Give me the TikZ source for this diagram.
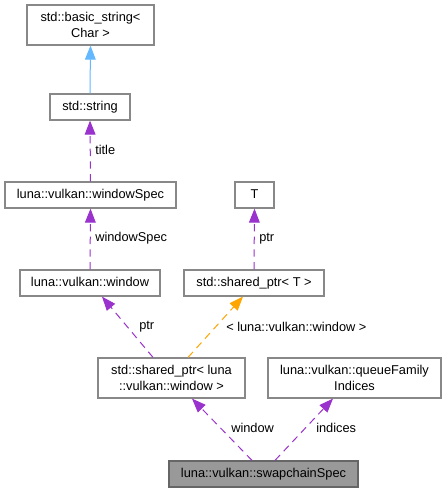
\documentclass[tikz,border=0pt]{standalone}
\usepackage{fontspec}
\setmainfont{Liberation Sans}
\usetikzlibrary{arrows.meta}
\definecolor{boxline}{HTML}{888888}
\definecolor{usecol}{HTML}{9A32CD}
\definecolor{tmplcol}{HTML}{FFA500}
\definecolor{inhcol}{HTML}{63B8FF}
\definecolor{curfill}{HTML}{999999}
\definecolor{curline}{HTML}{666666}
\tikzset{
  cls/.style={draw=boxline, line width=0.9pt, fill=white, align=center, inner sep=0pt,
    font=\fontsize{9.6pt}{11.5pt}\selectfont, text height=7pt, text depth=2pt},
  cur/.style={cls, fill=curfill, draw=curline},
  usage/.style={draw=usecol, line width=0.75pt, dash pattern=on 5.5pt off 4pt,
    -{Triangle[length=10.5pt,width=8pt,fill=usecol]}},
  tmpl/.style={draw=tmplcol, line width=0.75pt, dash pattern=on 5.5pt off 4pt,
    -{Triangle[length=10.5pt,width=8pt,fill=tmplcol]}},
  inh/.style={draw=inhcol, line width=0.75pt,
    -{Triangle[length=10.5pt,width=8pt,fill=inhcol]}},
  lbl/.style={anchor=west, inner sep=0pt, font=\fontsize{9.6pt}{11.5pt}\selectfont}
}
\begin{document}
\begin{tikzpicture}[x=0.75pt,y=-0.75pt]
\useasboundingbox (0,0) rectangle (446,492);
\fill[white] (0,0) rectangle (446,492);
\node[cls, minimum width=95.25pt, minimum height=30pt, text height=, text depth=] (bs) at (90.5,25) {std::basic\_string\textless\\Char \textgreater};
\node[cls, minimum width=60pt, minimum height=19.5pt] (str) at (90,107) {std::string};
\node[cls, minimum width=128.25pt, minimum height=19.5pt] (ws) at (90.5,195) {luna::vulkan::windowSpec};
\node[cls, minimum width=29.25pt, minimum height=19.5pt] (T) at (254.5,195) {T};
\node[cls, minimum width=105pt, minimum height=19.5pt] (win) at (90,283) {luna::vulkan::window};
\node[cls, minimum width=105pt, minimum height=19.5pt] (spT) at (254,283) {std::shared\_ptr\textless{} T \textgreater};
\node[cls, minimum width=110.25pt, minimum height=30pt, text height=, text depth=] (spL) at (171.5,378) {std::shared\_ptr\textless{} luna\\::vulkan::window \textgreater};
\node[cls, minimum width=129.75pt, minimum height=30pt, text height=, text depth=] (qf) at (354.5,378) {luna::vulkan::queueFamily\\Indices};
\node[cur, minimum width=141.75pt, minimum height=19.5pt] (sc) at (263.5,474) {luna::vulkan::swapchainSpec};

\draw[inh] (str.north) -- (bs.south);
\draw[usage] (ws.north) -- (str.south);
\draw[usage] (win.north) -- (ws.south);
\draw[usage] (spT.north) -- (T.south);
\draw[usage] ([xshift=-13.875pt]spL.north) -- ([xshift=9pt]win.south);
\draw[tmpl] ([xshift=12.375pt]spL.north) -- ([xshift=-8.25pt]spT.south);
\draw[usage] ([xshift=-8.625pt]sc.north) -- ([xshift=15.375pt]spL.south);
\draw[usage] ([xshift=8.625pt]sc.north) -- ([xshift=-16.125pt]qf.south);

\node[lbl] (l1) at (95,150) {title};
\node[lbl] (l2) at (95,238) {windowSpec};
\node[lbl] (l3) at (259,239) {ptr};
\node[lbl] (l4) at (139,327) {ptr};
\node[lbl] (l5) at (226,327) {\textless{} luna::vulkan::window \textgreater};
\node[lbl] (l6) at (231,428) {window};
\node[lbl] (l7) at (316,428) {indices};
\end{tikzpicture}
\end{document}
